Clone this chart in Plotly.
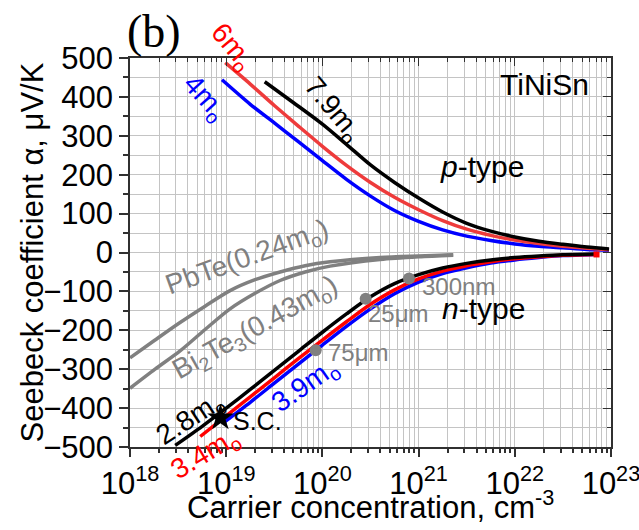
import plotly.graph_objects as go

# ---------------- data (log10 of carrier concentration, Seebeck in uV/K) -------------
# p-type TiNiSn
p79_logn = [19.4, 19.7, 20.0, 20.25, 20.5, 20.75, 21.0, 21.25, 21.5, 21.75, 22.0, 22.25, 22.5, 22.75, 22.98]
p79_S    = [439, 385, 330, 278, 225, 180, 140, 104, 75, 55, 40, 29, 21, 14, 9]
p6_logn  = [18.99, 19.25, 19.5, 19.75, 20.0, 20.25, 20.5, 20.75, 21.0, 21.25, 21.5, 21.75, 22.0, 22.25, 22.5, 22.75, 22.98]
p6_S     = [488, 433, 378, 325, 273, 224, 180, 142, 110, 82, 60, 44, 32, 23, 16, 11, 7]
p4_logn  = [18.956, 19.25, 19.5, 19.75, 20.0, 20.25, 20.5, 20.75, 21.0, 21.25, 21.5, 21.75, 22.0, 22.25, 22.5, 22.75, 22.98]
p4_S     = [444, 381, 333, 285, 236, 188, 145, 108, 80, 58, 42, 31, 22, 16, 12, 8, 6]

# n-type TiNiSn
n28_logn = [18.47, 18.75, 19.0, 19.25, 19.5, 19.75, 20.0, 20.25, 20.5, 20.75, 21.0, 21.25, 21.5, 21.75, 22.0, 22.25, 22.5, 22.85]
n28_S    = [-496, -447, -400, -352, -303, -254, -205, -158, -114, -80, -57, -40, -28, -19, -13, -9, -6, -4]
n34_logn = [18.73, 19.0, 19.25, 19.5, 19.75, 20.0, 20.25, 20.5, 20.75, 21.0, 21.25, 21.5, 21.75, 22.0, 22.25, 22.5, 22.85]
n34_S    = [-473, -420, -371, -322, -273, -225, -178, -133, -96, -68, -48, -34, -24, -16, -11, -7, -5]
n39_logn = [18.99, 19.25, 19.5, 19.75, 20.0, 20.25, 20.5, 20.75, 21.0, 21.25, 21.5, 21.75, 22.0, 22.25, 22.5, 22.85]
n39_S    = [-434, -385, -336, -287, -238, -190, -145, -106, -76, -54, -39, -27, -19, -13, -8, -5]

# reference materials
pbte_logn = [18.0, 18.26, 18.52, 18.78, 19.04, 19.3, 19.56, 19.82, 20.08, 20.6, 21.0, 21.36]
pbte_S    = [-271, -225, -180, -138, -98, -70, -50, -34, -24, -13, -9, -6]
bite_logn = [18.0, 18.26, 18.52, 18.78, 19.04, 19.3, 19.56, 19.82, 20.08, 20.6, 21.0, 21.36]
bite_S    = [-349, -300, -253, -198, -145, -105, -72, -50, -35, -18, -11, -7]

# experimental points (grain size) and single crystal
pts_logn = [19.93, 20.45, 20.90]
pts_S    = [-251, -119, -67]
pts_lbl  = ["75μm", "25μm", "300nm"]
sc_logn = [18.94]
sc_S    = [-425]

xticks_log = [18, 19, 20, 21, 22, 23]
xticks_txt = ["10<sup>%d</sup>" % v for v in xticks_log]

# ---------------- figure -------------
FONT = "Liberation Sans, Arial, sans-serif"
BLUE = "#0000ff"
RED_P = "#ee3b3b"
RED_N = "#ff0000"
GRAY = "#808080"

def tolin(v):
    return [10.0 ** a for a in v]

fig = go.Figure()
LW = 3.5
for xs, ys, c in [
    (pbte_logn, pbte_S, GRAY), (bite_logn, bite_S, GRAY),
    (p4_logn, p4_S, BLUE), (p6_logn, p6_S, RED_P), (p79_logn, p79_S, "black"),
    (n39_logn, n39_S, BLUE), (n34_logn, n34_S, RED_N), (n28_logn, n28_S, "black"),
]:
    fig.add_trace(go.Scatter(x=tolin(xs), y=ys, mode="lines",
                             line=dict(color=c, width=LW, shape="spline", smoothing=0.8),
                             showlegend=False, hoverinfo="skip"))

# red end marker on 3.4mo n-type curve
fig.add_trace(go.Scatter(x=tolin(n34_logn[-1:]), y=n34_S[-1:], mode="markers",
                         marker=dict(color=RED_N, size=6, symbol="square"), showlegend=False))
# grain-size points
fig.add_trace(go.Scatter(x=tolin(pts_logn), y=pts_S, mode="markers",
                         marker=dict(color=GRAY, size=12), showlegend=False))
# single crystal star
fig.add_trace(go.Scatter(x=tolin(sc_logn), y=sc_S, mode="markers",
                         marker=dict(color="black", size=20, symbol="star"), showlegend=False))
# dummy trace to create mirrored axes
fig.add_trace(go.Scatter(x=[None], y=[None], xaxis="x2", yaxis="y2", showlegend=False))

XR = [17.9995, 23.0005]
grid = "#c4c4c4"
axis_col = "#303030"
fig.update_layout(
    width=639, height=530,
    margin=dict(l=130, r=28, t=58, b=83, autoexpand=False),
    plot_bgcolor="white", paper_bgcolor="white",
    font=dict(family=FONT, size=31, color="black"),
    xaxis=dict(type="log", range=XR, tickvals=tolin(xticks_log), ticktext=xticks_txt,
               showline=True, linecolor=axis_col, linewidth=1.5,
               ticks="outside", ticklen=8, tickwidth=1.5, tickcolor=axis_col,
               showgrid=True, gridcolor=grid, gridwidth=1,
               minor=dict(dtick="D1", ticks="outside", ticklen=4, tickcolor=axis_col,
                          showgrid=True, gridcolor=grid, gridwidth=1),
               zeroline=False, tickfont=dict(size=31), ticklabeloverflow="allow",
               automargin=False),
    yaxis=dict(range=[-500, 500], dtick=100, showline=True, linecolor=axis_col, linewidth=1.5,
               ticks="outside", ticklen=9, tickwidth=1.5, tickcolor=axis_col,
               showgrid=True, gridcolor=grid, gridwidth=1,
               minor=dict(dtick=50, ticks="outside", ticklen=5, tickcolor=axis_col,
                          showgrid=True, gridcolor=grid, gridwidth=1),
               zeroline=False, tickfont=dict(size=31), automargin=False),
    xaxis2=dict(type="log", range=XR, overlaying="x", side="top", anchor="y2",
                showline=True, linecolor=axis_col, linewidth=1.5,
                tickvals=tolin(xticks_log), ticks="inside", ticklen=8, tickcolor=axis_col,
                minor=dict(dtick="D1", ticks="inside", ticklen=4, tickcolor=axis_col),
                showticklabels=False, showgrid=False, zeroline=False, automargin=False),
    yaxis2=dict(range=[-500, 500], overlaying="y", side="right", anchor="x2",
                showline=True, linecolor=axis_col, linewidth=1.5, dtick=100,
                ticks="inside", ticklen=8, tickcolor=axis_col,
                minor=dict(dtick=50, ticks="inside", ticklen=4, tickcolor=axis_col),
                showticklabels=False, showgrid=False, zeroline=False, automargin=False),
)

def ann(text, lx, y, size, color="black", angle=0, family=FONT, ref="data"):
    if ref == "data":
        xr, yr = "x", "y"
    else:
        xr, yr = "paper", "paper"
    fig.add_annotation(x=lx, y=y, xref=xr, yref=yr, text=text, showarrow=False,
                       xanchor="center", yanchor="middle",
                       textangle=angle, font=dict(family=family, size=size, color=color))

ann("(b)", 0.050, 1.067, 46, family="Liberation Serif, Times New Roman, serif", ref="paper")
ann("6m<sub>o</sub>", 0.212, 1.028, 28, RED_N, 50, ref="paper")
ann("4m<sub>o</sub>", 18.77, 395, 28, BLUE, 48)
ann("7.9m<sub>o</sub>", 20.10, 367, 28, "black", 50)
ann("TiNiSn", 22.31, 432, 30)
ann("<i>p</i>-type", 21.66, 222, 30)
ann("<i>n</i>-type", 21.67, -145, 30)
ann("PbTe(0.24m<sub>o</sub>)", 19.22, -16, 28, GRAY, -20)
ann("Bi<sub>2</sub>Te<sub>3</sub>(0.43m<sub>o</sub>)", 19.31, -196, 28, GRAY, -29)
ann(pts_lbl[0], 20.37, -256, 24, GRAY)
ann(pts_lbl[1], 20.79, -158, 24, GRAY)
ann(pts_lbl[2], 21.42, -88, 24, GRAY)
ann("S.C.", 19.33, -434, 25)
ann("2.8m<sub>o</sub>", 18.63, -429, 28, "black", -33)
ann("3.4m<sub>o</sub>", 0.158, -0.020, 28, RED_N, -31, ref="paper")
ann("3.9m<sub>o</sub>", 19.82, -344, 28, BLUE, -35)

# axis titles
fig.add_annotation(xref="paper", yref="paper", x=0, y=0.5, xshift=-98, text="Seebeck coefficient α, μV/K",
                   textangle=-90, showarrow=False, font=dict(family=FONT, size=31),
                   xanchor="center", yanchor="middle")
fig.add_annotation(xref="paper", yref="paper", x=0.5, y=0, yshift=-58, text="Carrier concentration, cm<sup>-3</sup>",
                   showarrow=False, font=dict(family=FONT, size=31), xanchor="center", yanchor="middle")

fig.write_html("out.html")
